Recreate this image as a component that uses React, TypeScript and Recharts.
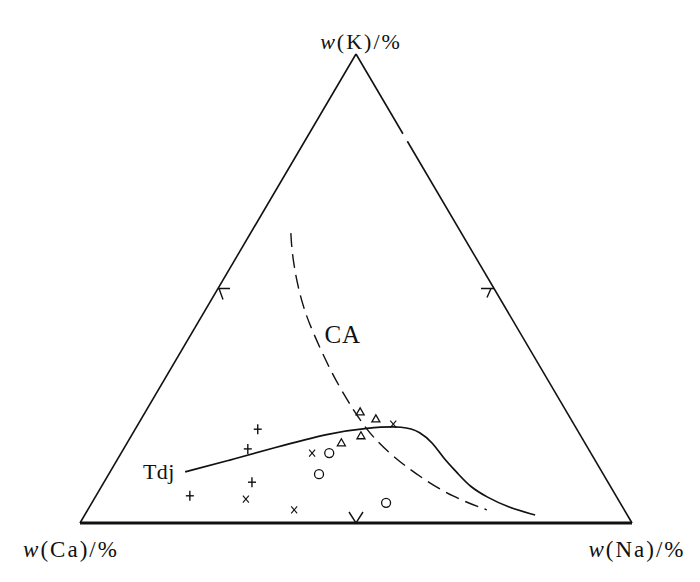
import { ComposedChart, Line, Scatter, XAxis, YAxis } from 'recharts'

// ---------------------------------------------------------------------------
// Data — compositions as [w(Ca), w(Na), w(K)] in %
// ---------------------------------------------------------------------------

type Comp = [number, number, number]

const plusSamples: Comp[] = [
  [57.8, 22.2, 20.0], [61.7, 22.5, 15.8], [64.5, 26.8, 8.7], [77.2, 17.0, 5.8],
]
const crossSamples: Comp[] = [
  [67.4, 27.5, 5.1], [59.8, 37.4, 2.8], [50.5, 34.6, 14.9], [32.7, 46.2, 21.1],
]
const circleSamples: Comp[] = [
  [47.4, 37.7, 14.9], [51.5, 38.1, 10.4], [42.4, 53.3, 4.3],
]
const triangleSamples: Comp[] = [
  [37.4, 38.9, 23.7], [35.3, 42.5, 22.2], [39.8, 41.6, 18.6], [44.1, 38.8, 17.1],
]

// Tdj boundary (solid)
const tdjCurve: Comp[] = [
  [75.5, 13.6, 10.9], [66.1, 20.5, 13.4], [57.0, 27.0, 16.0], [45.1, 35.7, 19.2],
  [37.9, 41.8, 20.3], [30.8, 48.5, 20.7], [28.7, 51.9, 19.4], [27.5, 55.4, 17.1],
  [27.3, 58.8, 13.9], [26.3, 63.0, 10.7], [25.5, 66.8, 7.7], [23.5, 71.0, 5.5],
  [20.9, 75.7, 3.4], [16.7, 81.6, 1.7],
]

// CA boundary (dashed)
const caCurve: Comp[] = [
  [30.9, 7.3, 61.8], [32.8, 9.6, 57.6], [35.1, 13.7, 51.2], [36.7, 17.9, 45.4],
  [37.5, 22.0, 40.5], [38.4, 29.0, 32.6], [38.5, 35.3, 26.2], [38.3, 39.7, 22.0],
  [37.8, 43.9, 18.3], [36.2, 49.7, 14.1], [33.5, 56.7, 9.8], [29.7, 64.8, 5.5],
  [24.9, 72.3, 2.8],
]

// triangle frame corners and 50 % marks
const cornerCa: Comp = [100, 0, 0]
const cornerNa: Comp = [0, 100, 0]
const cornerK: Comp = [0, 0, 100]
const rightGap: Comp[] = [[0, 17, 83], [0, 18.6, 81.4]]
const midMarks: { comp: Comp; kind: string }[] = [
  { comp: [50, 0, 50], kind: 'left' },
  { comp: [0, 50, 50], kind: 'right' },
  { comp: [50, 50, 0], kind: 'bottom' },
]

const textLabels: {
  comp: Comp; text: string; dx: number; dy: number; size: number; spacing: number; italicW?: boolean
}[] = [
  { comp: cornerK, text: '(K)/%', dx: 5, dy: -5, size: 22, spacing: 2, italicW: true },
  { comp: cornerCa, text: '(Ca)/%', dx: -9, dy: 34, size: 23, spacing: 2, italicW: true },
  { comp: cornerNa, text: '(Na)/%', dx: 5, dy: 34, size: 23, spacing: 2, italicW: true },
  { comp: [33.2, 28.4, 38.4], text: 'CA', dx: 0, dy: 0, size: 25, spacing: 1 },
  { comp: [81.0, 9.6, 9.4], text: 'Tdj', dx: 0, dy: 0, size: 22, spacing: 0.5 },
]

// ---------------------------------------------------------------------------
// Ternary -> cartesian
// ---------------------------------------------------------------------------

const toXY = ([ca, na, k]: Comp) => {
  const s = ca + na + k
  return { x: (na + k / 2) / s, y: k / s }
}

const INK = '#111'
const FONT = '"Liberation Serif", "Times New Roman", serif'

// ---------------------------------------------------------------------------
// Marker shapes
// ---------------------------------------------------------------------------

const PlusShape = ({ cx, cy }: any) => (
  <g stroke={INK} strokeWidth={1.4}>
    <line x1={cx - 4} y1={cy} x2={cx + 4} y2={cy} />
    <line x1={cx} y1={cy - 5} x2={cx} y2={cy + 5} />
  </g>
)

const CrossShape = ({ cx, cy }: any) => (
  <g stroke={INK} strokeWidth={1.1}>
    <line x1={cx - 3} y1={cy - 3.5} x2={cx + 3} y2={cy + 3.5} />
    <line x1={cx + 3} y1={cy - 3.5} x2={cx - 3} y2={cy + 3.5} />
  </g>
)

const CircleShape = ({ cx, cy }: any) => (
  <circle cx={cx} cy={cy} r={4.5} fill="none" stroke={INK} strokeWidth={1.3} />
)

const TriangleShape = ({ cx, cy }: any) => (
  <polygon
    points={`${cx},${cy - 4} ${cx + 4},${cy + 3} ${cx - 4},${cy + 3}`}
    fill="none" stroke={INK} strokeWidth={1.3}
  />
)

const MarkShape = ({ cx, cy, payload }: any) => {
  let d = ''
  if (payload.kind === 'left') d = `M${cx + 12},${cy} L${cx},${cy} M${cx + 1},${cy} L${cx + 5},${cy + 11}`
  if (payload.kind === 'right') d = `M${cx - 13},${cy} L${cx},${cy} M${cx - 3},${cy} L${cx - 7},${cy + 9}`
  if (payload.kind === 'bottom') d = `M${cx - 7},${cy - 11} L${cx},${cy} L${cx + 7},${cy - 11}`
  return <path d={d} fill="none" stroke={INK} strokeWidth={1.4} />
}

const TextShape = ({ cx, cy, payload }: any) => (
  <text
    x={cx + payload.dx} y={cy + payload.dy} textAnchor="middle"
    fontFamily={FONT} fontSize={payload.size} letterSpacing={payload.spacing} fill={INK}
  >
    {payload.italicW && <tspan fontStyle="italic">w</tspan>}
    {payload.text}
  </text>
)

// ---------------------------------------------------------------------------
// Component
// ---------------------------------------------------------------------------

export default function App() {
  const leftSide = [cornerCa, cornerK].map(toXY)
  const rightTop = [cornerK, rightGap[0]].map(toXY)
  const rightBottom = [rightGap[1], cornerNa].map(toXY)
  const bottomSide = [cornerCa, cornerNa].map(toXY)
  const marks = midMarks.map((m) => ({ ...toXY(m.comp), kind: m.kind }))
  const labels = textLabels.map((l) => ({ ...toXY(l.comp), ...l }))

  return (
    <div style={{ position: 'absolute', left: 0, top: 0, width: 700, height: 582, background: '#fff' }}>
      <ComposedChart width={700} height={582} margin={{ top: 54, right: 68, bottom: 59, left: 80 }}>
        <XAxis type="number" dataKey="x" domain={[0, 1]} hide />
        <YAxis type="number" dataKey="y" domain={[0, 1]} hide />

        {/* frame */}
        <Line data={leftSide} dataKey="y" type="linear" stroke={INK} strokeWidth={1.6} dot={false} activeDot={false} isAnimationActive={false} />
        <Line data={rightTop} dataKey="y" type="linear" stroke={INK} strokeWidth={1.6} dot={false} activeDot={false} isAnimationActive={false} />
        <Line data={rightBottom} dataKey="y" type="linear" stroke={INK} strokeWidth={1.6} dot={false} activeDot={false} isAnimationActive={false} />
        <Line data={bottomSide} dataKey="y" type="linear" stroke={INK} strokeWidth={3.2} dot={false} activeDot={false} isAnimationActive={false} />
        <Scatter data={marks} shape={MarkShape} isAnimationActive={false} />

        {/* boundaries */}
        <Line data={caCurve.map(toXY)} dataKey="y" type="basis" stroke={INK} strokeWidth={1.4} strokeDasharray="14 7" dot={false} activeDot={false} isAnimationActive={false} />
        <Line data={tdjCurve.map(toXY)} dataKey="y" type="basis" stroke={INK} strokeWidth={1.7} dot={false} activeDot={false} isAnimationActive={false} />

        {/* samples */}
        <Scatter data={plusSamples.map(toXY)} shape={PlusShape} isAnimationActive={false} />
        <Scatter data={crossSamples.map(toXY)} shape={CrossShape} isAnimationActive={false} />
        <Scatter data={circleSamples.map(toXY)} shape={CircleShape} isAnimationActive={false} />
        <Scatter data={triangleSamples.map(toXY)} shape={TriangleShape} isAnimationActive={false} />

        {/* text */}
        <Scatter data={labels} shape={TextShape} isAnimationActive={false} />
      </ComposedChart>
    </div>
  )
}
